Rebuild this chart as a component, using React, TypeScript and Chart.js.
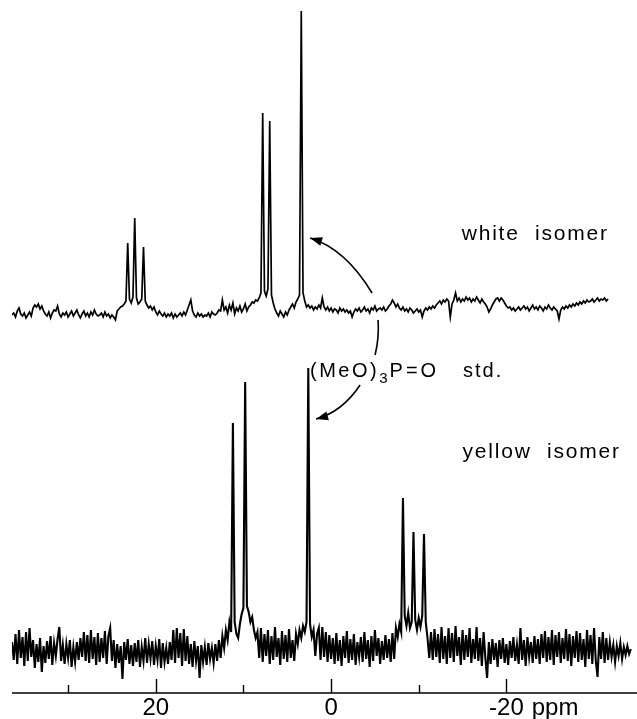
import { useEffect, useRef } from "react";
import { Chart, registerables } from "chart.js";

Chart.register(...registerables);

// ---- axis (chemical shift, ppm) ----
const PPM_START = 36.4; // first sample of each trace
const PPM_STEP = 0.2; // spacing of samples
const X_MIN = -34.9;
const X_MAX = 36.4;
const TICK_VALUES = [30, 20, 10, 0, -10, -20];
const TICK_LABELS: Record<string, string> = { "20": "20", "0": "0", "-20": "-20" };
const AXIS_UNIT = "ppm";

// ---- vertical stacking of the two spectra ----
const Y_MAX = 693;
const WHITE_OFFSET = 380;
const YELLOW_OFFSET = 41;

// ---- white isomer trace (intensity per sample) ----
const WHITE = [
  -2, 0, -4, 2, 5, -1, -3, 0, -5, -2,
  1, -3, 5, 8, 6, 9, 4, 7, 2, -1,
  -3, 1, -5, 0, 3, 2, 7, -1, -4, 0,
  -2, 1, -4, -1, 2, -3, 0, 3, -2, -5,
  -1, 2, -3, 0, -4, 1, -2, 3, -1, -3,
  -2, 0, -4, 1, -3, -1, -5, -2, -4, -7,
  2, 4, 6, 7, 9, 12, 70, 14, 10, 16,
  95, 15, 9, 11, 14, 66, 12, 8, 5, 7,
  3, 6, 1, -2, 2, -1, -3, 0, -4, -1,
  -3, 0, -5, -1, -4, -2, 0, -3, 1, -2,
  3, 8, 13, 2, -2, -4, 0, -3, -1, -4,
  -2, -3, 0, -4, 1, -1, -2, 0, 3, 2,
  13, 3, 6, 0, 8, 3, 10, -1, 5, 2,
  7, 1, 4, 9, 2, 6, 8, 11, 10, 13,
  12, 15, 20, 200, 22, 17, 24, 192, 18, 10,
  4, 0, -3, 2, -1, -4, 1, -2, 3, 6,
  9, 5, 11, 14, 18, 302, 20, 12, 6, 8,
  5, 7, 3, 6, 4, 8, 5, 15, 6, 3,
  6, 2, 5, 1, 4, 3, 0, 5, 2, 4,
  1, 3, 0, 2, -4, 1, 4, 2, 5, 1,
  3, 6, 2, 4, 0, 5, 3, 7, 2, 4,
  5, 3, 6, 2, 4, 7, 9, 13, 10, 6,
  9, 5, 3, 6, 2, 4, 1, 5, 3, 0,
  2, 4, 1, 3, -4, 2, 5, 3, 6, 4,
  7, 5, 8, 10, 12, 9, 13, 11, 14, 12,
  -4, 9, 13, 20, 12, 15, 11, 14, 12, 16,
  13, 15, 11, 14, 12, 16, 13, 10, 14, 11,
  9, 6, 1, 4, 8, 11, 14, 15, 12, 15,
  13, 10, 7, 5, 6, 3, 5, 2, 4, 6,
  3, 5, 7, 4, 6, 2, 5, 8, 4, 6,
  3, 7, 5, 2, 6, 4, 8, 5, 3, 6,
  4, 2, -6, 3, 6, 4, 7, 5, 8, 6,
  9, 7, 10, 8, 11, 9, 12, 10, 13, 11,
  12, 14, 11, 13, 15, 12, 14, 13, 15, 12, 14,
];

// ---- yellow isomer trace (intensity per sample) ----
const YELLOW = [
  10, -8, 18, -12, 22, -6, 15, -14, 20, -9,
  24, -5, 12, -16, 8, -10, 14, -20, 6, -11,
  11, -7, 16, -13, 9, -4, 13, 25, -9, 7,
  -12, 8, -6, 12, -15, 5, -10, 10, -8, 14,
  -5, 20, -9, 17, -11, 22, -7, 15, -13, 19,
  -10, 14, -6, 21, -12, 16, 24, -9, 12, -16,
  8, -11, 6, -27, 10, -8, 13, -12, 7, -14,
  9, -10, 12, -15, 5, -9, 14, -11, 8, -7,
  11, -13, 6, -8, 13, -16, 9, -10, 4, -12,
  10, -8, 22, -11, 24, -6, 19, -14, 23, -9,
  16, -12, 8, -15, 11, -9, 6, -26, 7, -10,
  5, -13, 9, -7, 4, -11, 8, -9, 12, -6,
  16, 4, 22, 12, 30, 20, 229, 30, 18, 14,
  28, 38, 44, 270, 46, 40, 30, 35, 22, 14,
  20, -6, 24, -10, 18, -4, 22, -12, 16, -8,
  25, -5, 14, -13, 21, -7, 17, -10, 23, -6,
  12, -9, 18, 8, 22, 14, 26, 20, 30, 284,
  28, 15, 22, -4, 18, 24, -8, 25, -5, 20,
  -10, 17, -7, 14, -12, 19, -9, 12, -14, 16,
  -6, 21, -11, 13, -8, 18, -13, 10, -5, 15,
  -10, 20, -7, 12, -15, 16, -9, 22, -4, 14,
  -12, 11, -8, 17, -6, 13, -10, 19, -7, 24,
  15, 28, 20, 154, 36, 26, 39, 24, 30, 120,
  32, 22, 34, 25, 36, 118, 30, 14, -6, 20,
  -8, 23, -5, 18, -11, 25, -7, 16, -12, 24,
  -6, 19, -10, 26, -4, 15, -13, 22, -8, 17,
  -5, 24, -11, 13, -7, 25, -9, 14, -14, 20,
  -6, -26, 10, -12, 13, -8, 9, -15, 12, -7,
  14, -11, 8, -13, 11, -6, 15, -9, 7, -12,
  24, -8, 12, -14, 15, -5, 10, -11, 16, -7,
  13, -12, 18, -6, 21, -10, 15, -8, 22, -13,
  17, -5, 20, -11, 14, -7, 23, -9, 18, -14,
  16, -6, 21, -10, 19, -8, 13, -15, 22, -7,
  17, -12, 24, -9, -25, 15, -7, 20, -11, 14,
  -8, 10, -5, 7, -10, 6, -4, 9, -7, 5, -3, 6, -2, 3,
];

// ---- annotations (ppm, vertical units) ----
const LABEL_WHITE = { text: "white  isomer", ppm: -14.9, y: 453 };
const LABEL_YELLOW = { text: "yellow  isomer", ppm: -15.0, y: 235 };
const LABEL_STD = { ppm: 2.4, y: 316, stdPpm: -15.05 };
// arrows as quadratic curves: [start, control, end] in (ppm, y)
const ARROW_TOP = [[-4.68, 400], [-1.6, 444.5], [2.39, 455]];
const ARROW_MID = [[-5.36, 373], [-5.5, 355], [-5.02, 338]];
const ARROW_BOTTOM = [[-3.31, 308], [-1.25, 281], [1.71, 274]];

const FONT = "'Liberation Sans', Arial, sans-serif";

function toPoints(values: number[], offset: number) {
  return values.map((v, i) => ({ x: +(PPM_START - i * PPM_STEP).toFixed(2), y: offset + v }));
}

const overlay = {
  id: "overlay",
  afterDraw(chart: any) {
    const { ctx, chartArea, scales } = chart;
    const xs = scales.x;
    const ys = scales.y;
    const px = (p: number) => xs.getPixelForValue(p);
    const py = (v: number) => ys.getPixelForValue(v);
    ctx.save();
    ctx.strokeStyle = "#000";
    ctx.fillStyle = "#000";

    // axis line + ticks pointing up
    const yb = chartArea.bottom;
    ctx.lineWidth = 1.6;
    ctx.beginPath();
    ctx.moveTo(chartArea.left, yb);
    ctx.lineTo(chartArea.right, yb);
    ctx.stroke();
    ctx.lineWidth = 1.4;
    for (const t of xs.ticks) {
      const x = Math.round(px(t.value)) + 0.5;
      const len = TICK_LABELS[String(t.value)] ? 14 : 8;
      ctx.beginPath();
      ctx.moveTo(x, yb);
      ctx.lineTo(x, yb - len);
      ctx.stroke();
    }

    // unit after -20
    ctx.font = `24px ${FONT}`;
    ctx.textBaseline = "middle";
    ctx.textAlign = "left";
    const w20 = ctx.measureText("-20").width;
    ctx.fillText(AXIS_UNIT, px(-20) + w20 / 2 + 8, yb + 3 + 12);

    // text labels
    ctx.textBaseline = "alphabetic";
    ctx.font = `21px ${FONT}`;
    (ctx as any).letterSpacing = "1.8px";
    ctx.fillText(LABEL_WHITE.text, px(LABEL_WHITE.ppm), py(LABEL_WHITE.y));
    ctx.fillText(LABEL_YELLOW.text, px(LABEL_YELLOW.ppm), py(LABEL_YELLOW.y));

    // (MeO)3P=O std.
    let x = px(LABEL_STD.ppm);
    const yBase = py(LABEL_STD.y);
    ctx.font = `20px ${FONT}`;
    (ctx as any).letterSpacing = "2.5px";
    ctx.fillText("(MeO)", x, yBase);
    x += ctx.measureText("(MeO)").width;
    ctx.font = `15px ${FONT}`;
    (ctx as any).letterSpacing = "1px";
    ctx.fillText("3", x, yBase + 6);
    x += ctx.measureText("3").width + 1;
    ctx.font = `20px ${FONT}`;
    (ctx as any).letterSpacing = "3px";
    ctx.fillText("P=O", x, yBase);
    (ctx as any).letterSpacing = "2px";
    ctx.fillText("std.", px(LABEL_STD.stdPpm), yBase);
    (ctx as any).letterSpacing = "0px";

    // arrows
    const curve = (pts: number[][], head: boolean) => {
      const p0 = [px(pts[0][0]), py(pts[0][1])];
      const c = [px(pts[1][0]), py(pts[1][1])];
      const p1 = [px(pts[2][0]), py(pts[2][1])];
      ctx.lineWidth = 1.6;
      ctx.beginPath();
      ctx.moveTo(p0[0], p0[1]);
      ctx.quadraticCurveTo(c[0], c[1], p1[0], p1[1]);
      ctx.stroke();
      if (head) {
        const a = Math.atan2(p1[1] - c[1], p1[0] - c[0]);
        const L = 12;
        const W = 4.5;
        const ca = Math.cos(a);
        const sa = Math.sin(a);
        ctx.beginPath();
        ctx.moveTo(p1[0], p1[1]);
        ctx.lineTo(p1[0] - L * ca + W * sa, p1[1] - L * sa - W * ca);
        ctx.lineTo(p1[0] - L * ca - W * sa, p1[1] - L * sa + W * ca);
        ctx.closePath();
        ctx.fill();
      }
    };
    curve(ARROW_TOP, true);
    curve(ARROW_MID, false);
    curve(ARROW_BOTTOM, true);
    ctx.restore();
  },
};

export default function App() {
  const ref = useRef<HTMLCanvasElement | null>(null);
  useEffect(() => {
    if (!ref.current) return;
    const chart = new Chart(ref.current, {
      type: "line",
      data: {
        datasets: [
          {
            label: "white isomer",
            data: toPoints(WHITE, WHITE_OFFSET),
            borderColor: "#000",
            borderWidth: 1.7,
            pointRadius: 0,
            tension: 0,
          },
          {
            label: "yellow isomer",
            data: toPoints(YELLOW, YELLOW_OFFSET),
            borderColor: "#000",
            borderWidth: 2.1,
            pointRadius: 0,
            tension: 0,
          },
        ],
      },
      options: {
        animation: false,
        responsive: false,
        devicePixelRatio: 1,
        layout: { padding: { left: 12, right: 0, top: 0, bottom: 0 } },
        plugins: { legend: { display: false }, tooltip: { enabled: false } },
        scales: {
          x: {
            type: "linear",
            reverse: true,
            min: X_MIN,
            max: X_MAX,
            afterBuildTicks: (s: any) => {
              s.ticks = TICK_VALUES.map((value) => ({ value }));
            },
            afterFit: (s: any) => {
              s.height = 26;
            },
            grid: { display: false, drawTicks: false },
            border: { display: false },
            ticks: {
              autoSkip: false,
              maxRotation: 0,
              padding: 3,
              color: "#000",
              font: { family: FONT, size: 24, lineHeight: 1 },
              callback: (v: any) => TICK_LABELS[String(v)] ?? "",
            },
          },
          y: { display: false, min: 0, max: Y_MAX },
        },
      },
      plugins: [overlay],
    });
    return () => chart.destroy();
  }, []);
  return (
    <div style={{ position: "absolute", left: 0, top: 0, width: 637, height: 719, background: "#fff" }}>
      <canvas ref={ref} width={637} height={719} style={{ display: "block" }} />
    </div>
  );
}
